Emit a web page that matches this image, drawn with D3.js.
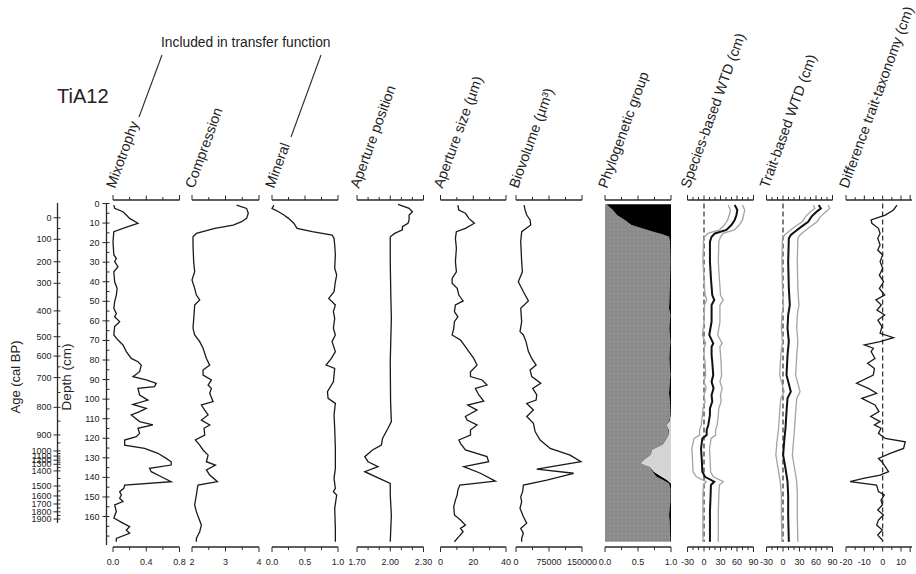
<!DOCTYPE html>
<html>
<head>
<meta charset="UTF-8" />
<style>
  body { margin: 0; background: #fff; }
  text { font-family: Arial, "Liberation Sans", sans-serif; fill: #222; }
</style>
</head>
<body>
<svg id="chart" width="916" height="574"></svg>
<script src="https://d3js.org/d3.v7.min.js"></script>
<script>
// ---- age-depth model (age labels and the depth they sit at)
const ageLabels = [0, 100, 200, 300, 400, 500, 600, 700, 800, 900, 1000, 1100, 1200, 1300, 1400, 1500, 1600, 1700, 1800, 1900];
const ageDepths = [7.3, 18.3, 29.8, 40.8, 54.9, 68.1, 78, 89, 104.2, 118.3, 126.5, 129.1, 131.2, 133.3, 136.7, 144.4, 149.5, 153.6, 157.6, 161.3];

// ---- series: [depth (cm), value]
const mixotrophy = [[0.8,0.01],[2.5,0.02],[4.2,0.12],[5.9,0.16],[7.6,0.2],[10.1,0.3],[11.8,0.18],[14.4,0.01],[19.5,0],[26.3,0.01],[28.0,0.04],[29.7,0.02],[32.3,0.06],[34.9,0.01],[40.0,0.02],[43.4,0.05],[46.8,0.04],[50.2,0.02],[53.6,0.01],[56.2,0.04],[57.9,0.02],[60.4,0.08],[62.9,0.02],[67.2,0.01],[69.8,0.06],[72.3,0.12],[75.7,0.16],[79.2,0.22],[80.9,0.3],[82.6,0.34],[86.0,0.32],[88.5,0.24],[90.2,0.4],[91.9,0.52],[93.6,0.5],[94.5,0.3],[97.9,0.32],[100.5,0.42],[102.7,0.24],[104.7,0.4],[106.4,0.32],[108.1,0.22],[111.5,0.32],[113.2,0.48],[114.9,0.3],[117.5,0.32],[119.2,0.28],[120.9,0.14],[123.5,0.14],[125.2,0.38],[127.7,0.54],[130.3,0.64],[132.0,0.7],[133.7,0.7],[135.4,0.44],[137.1,0.46],[139.7,0.58],[142.2,0.7],[143.9,0.14],[145.6,0.13],[147.3,0.08],[149.0,0.1],[150.7,0.08],[152.4,0.12],[154.1,0.02],[157.5,0.04],[160.8,0.01],[163.4,0.12],[165.2,0.2],[166.9,0.16],[168.6,0.2],[171.2,0.04],[172.9,0.04]];
const compression = [[0.8,3.33],[2.5,3.63],[5.0,3.68],[7.6,3.63],[9.3,3.48],[11.0,3.23],[12.7,2.68],[15.3,2.13],[17.0,2.03],[21.2,2.03],[29.7,2.05],[34.9,2.08],[39.1,2.0],[43.4,2.08],[46.8,2.13],[49.3,2.23],[51.9,2.08],[57.0,2.06],[63.8,2.03],[67.2,2.08],[70.6,2.23],[74.0,2.33],[79.2,2.43],[82.6,2.53],[85.1,2.33],[87.7,2.33],[90.2,2.58],[92.8,2.48],[94.5,2.58],[97.0,2.53],[101.3,2.63],[103.0,2.28],[105.6,2.38],[108.1,2.48],[110.7,2.28],[113.2,2.53],[114.9,2.36],[118.4,2.38],[120.9,2.1],[123.5,2.23],[126.0,2.33],[128.6,2.48],[132.0,2.43],[133.7,2.7],[136.2,2.43],[138.8,2.53],[142.2,2.76],[143.9,2.18],[145.6,2.16],[149.0,2.13],[154.1,2.08],[157.5,2.13],[160.8,2.2],[164.4,2.28],[167.8,2.23],[171.2,2.13],[172.9,2.13]];
const mineral = [[0.8,0.03],[2.5,0],[4.2,0.1],[5.9,0.18],[7.6,0.25],[10.1,0.33],[12.7,0.38],[14.4,0.61],[16.1,0.91],[17.8,0.94],[21.2,0.95],[26.3,0.96],[33.1,0.95],[36.6,0.98],[40.0,0.96],[45.1,0.94],[48.5,0.86],[51.9,0.96],[55.3,0.93],[58.7,0.95],[63.8,0.93],[67.2,0.96],[70.6,0.91],[75.7,0.96],[79.2,0.9],[82.6,0.82],[84.3,0.95],[91.1,0.93],[96.2,0.84],[99.6,0.85],[102.2,0.96],[108.1,0.94],[114.9,0.95],[125.2,0.96],[135.4,0.96],[140.5,0.94],[145.6,0.96],[147.3,0.93],[149.0,0.98],[155.8,0.95],[166.1,0.96],[172.9,0.96]];
const aperturePosition = [[0.4,2.07],[2.5,2.17],[4.2,2.2],[5.9,2.17],[8.4,2.17],[10.1,2.16],[11.8,2.11],[13.5,2.11],[15.3,2.04],[17.0,2.0],[19.5,2.0],[29.7,2.0],[46.8,2.005],[58.7,2.01],[80.9,2.0],[101.3,2.003],[111.5,2.01],[114.9,1.98],[120.1,1.93],[123.5,1.92],[126.0,1.84],[129.4,1.77],[132.0,1.8],[134.5,1.89],[137.1,1.77],[140.5,1.9],[143.1,2.0],[149.0,2.0],[159.2,2.01],[172.9,2.0]];
const apertureSize = [[0.8,10.6],[3.3,11.2],[5.0,15.2],[7.6,17.3],[10.1,20.7],[12.7,15.2],[14.4,9.7],[17.8,9.1],[22.9,9.7],[29.7,9.1],[34.9,9.7],[38.3,7.1],[40.8,7.1],[43.4,10.2],[46.8,11.2],[49.8,13.8],[51.9,9.1],[55.3,8.5],[57.9,10.6],[60.4,8.5],[63.8,8.1],[67.2,7.1],[69.8,12.2],[73.2,15.2],[75.7,17.3],[79.2,20.3],[82.6,22.3],[86.0,18.3],[88.5,18.3],[90.2,25.4],[92.8,28.4],[94.5,21.3],[97.9,23.4],[101.0,26.4],[103.0,16.6],[105.6,22.3],[108.9,15.2],[110.7,16.2],[113.2,22.3],[115.8,18.3],[118.4,18.3],[120.9,11.2],[122.6,12.2],[126.0,15.2],[129.4,28.4],[132.0,29.4],[134.5,14.2],[137.9,24.4],[141.9,33.5],[143.9,11.8],[146.5,10.6],[149.0,10.2],[151.6,9.1],[155.0,8.1],[159.2,8.5],[161.8,12.2],[164.4,15.2],[166.1,12.2],[167.8,13.8],[170.3,11.2],[172.9,8.5]];
const biovolume = [[0.8,18300],[3.3,20600],[5.9,24400],[8.4,32000],[11.0,33500],[14.4,12900],[19.5,10700],[29.7,12900],[34.9,14500],[40.0,5300],[45.1,16800],[49.8,28200],[53.6,10700],[60.4,12900],[65.5,9100],[67.2,16800],[70.6,22800],[75.7,28200],[79.2,35800],[82.6,45700],[85.1,32000],[88.5,35800],[91.9,56300],[94.5,38000],[97.9,47200],[100.5,45700],[102.2,24400],[105.6,39600],[108.9,24400],[112.4,39600],[116.6,43400],[120.9,54800],[125.2,77700],[128.6,123000],[132.0,147700],[135.8,47200],[137.9,131000],[141.4,70000],[143.9,16800],[147.3,15200],[149.9,10700],[152.4,12900],[155.8,9100],[160.1,16800],[163.4,24400],[166.1,10700],[168.6,16800],[171.2,12900],[172.9,12900]];
// phylogenetic groups: [depth, grey group, black group, light group]
const phylogenetic = [[0.4,0.02,0.98,0],[3.3,0.12,0.88,0],[5.9,0.18,0.82,0],[8.4,0.3,0.7,0],[11.0,0.4,0.6,0],[12.7,0.56,0.44,0],[14.4,0.73,0.27,0],[15.8,0.88,0.12,0],[17.0,0.97,0.03,0],[19.5,0.985,0.015,0],[29.7,0.99,0.01,0],[40.0,0.985,0.015,0],[50.2,0.975,0.025,0],[53.6,0.97,0.03,0],[57.0,0.99,0.01,0],[63.8,0.975,0.025,0],[70.6,0.99,0.01,0],[79.2,0.975,0.025,0],[87.7,0.99,0.01,0],[97.0,0.97,0.03,0],[101.3,0.985,0.015,0],[108.1,0.99,0.01,0],[111.5,0.97,0.01,0.02],[113.2,0.93,0.005,0.065],[115.8,0.96,0.01,0.03],[118.4,0.97,0,0.03],[120.9,0.93,0,0.07],[123.5,0.88,0,0.12],[126.0,0.72,0,0.28],[128.6,0.7,0,0.3],[131.1,0.6,0,0.4],[132.8,0.55,0,0.45],[134.5,0.68,0,0.32],[137.1,0.72,0.02,0.26],[139.7,0.78,0.08,0.14],[141.4,0.88,0.06,0.06],[143.1,0.97,0.03,0],[145.6,0.99,0.01,0],[152.4,0.99,0.01,0],[159.2,0.97,0.03,0],[162.7,0.98,0.02,0],[172.9,0.99,0.01,0]];
// WTD reconstructions: [depth, estimate, lower error, upper error]
const speciesWTD = [[0.8,55.8,44,70],[3.3,60.6,48,74],[5.9,59,46,72],[8.4,55.8,43,70],[11.0,49.8,37,64],[13.5,40.8,28,55],[15.3,19.8,7,35],[17.0,13.8,1,30],[19.5,10.8,-1,27],[29.7,10.8,-2,26],[38.3,12.6,0,28],[46.8,15,2,30],[49.3,18.6,5,35],[51.9,13.8,1,29],[60.4,13.8,0,29],[67.2,9.6,-3,25],[71.5,16.8,3,33],[73.2,13.8,1,29],[77.5,13.8,0,30],[80.9,15,2,31],[87.7,16.8,3,32],[91.1,13.8,0,29],[94.5,17.4,4,33],[97.9,13.8,0,30],[101.3,15,2,31],[104.7,10.8,-2,27],[108.1,10.8,-3,26],[113.2,7.8,-5,24],[115.8,4.8,-8,21],[118.4,4.8,-8,21],[120.1,-3,-18,13],[125.2,-5.4,-22,10],[130.3,-4.2,-21,11],[137.1,-3,-20,12],[139.7,1.8,-14,17],[142.2,18.6,4,35],[143.9,12.6,-1,28],[149.0,12,-2,27],[157.5,10.8,-2,26],[166.1,10.8,-2,26],[172.9,10.8,-2,26]];
const traitWTD = [[0.8,65,55,82],[2.5,68.8,58,85],[4.2,61,50,78],[6.7,51.8,41,68],[9.3,45.8,35,62],[11.8,33.6,22,50],[14.4,21.5,10,38],[16.1,14.2,3,31],[17.8,10.6,-1,27],[29.7,9.4,-2,26],[43.4,10.6,-1,27],[51.9,12.4,1,29],[57.0,9.4,-2,26],[63.8,8.2,-3,25],[70.6,10.6,-1,27],[77.5,8.2,-4,25],[87.7,6.4,-6,23],[96.2,14.2,2,31],[99.6,8.2,-4,25],[106.4,6.4,-6,23],[114.9,4.5,-8,21],[121.8,2.1,-11,19],[128.6,0.3,-13,17],[135.4,4.5,-9,21],[142.2,8.2,-5,25],[149.0,9.4,-3,26],[159.2,9.4,-3,26],[172.9,10.6,-2,27]];
const difference = [[0.8,7.8],[3.3,5.9],[5.9,1.4],[8.4,-6.3],[10.1,-5.9],[12.7,-2.3],[15.3,-1.4],[17.8,-2.7],[21.2,-1.4],[23.8,-2.7],[26.3,0],[29.7,-1.4],[33.1,0],[36.6,-1.8],[40.0,0.5],[43.4,-1.8],[46.8,1.1],[49.3,-3.7],[51.9,-0.7],[54.5,-3.1],[57.0,1.1],[59.6,-2.6],[62.9,-0.4],[66.4,-1.4],[68.6,5.9],[70.6,-1.4],[72.3,-10],[74.0,-5.1],[75.7,-6.3],[79.2,-4.2],[81.7,-8.2],[84.3,-4.5],[87.7,-5.1],[91.9,-14.2],[94.5,-7.8],[97.0,-3.3],[99.6,-11.4],[103.0,-4.2],[106.4,-2.0],[108.9,-6.5],[111.5,-1.4],[113.2,-4.5],[114.9,-0.9],[117.5,-2.3],[120.1,1.4],[121.8,12.3],[125.2,11.4],[127.7,4.1],[130.3,-2.3],[132.0,-0.5],[134.5,1.4],[137.1,3.2],[138.8,-1.4],[140.5,-10.5],[142.2,-17.8],[143.9,-3.3],[147.3,-2.3],[149.0,0.9],[151.6,-0.9],[154.1,-0.2],[156.7,-2.7],[159.2,0.4],[161.8,-2.3],[164.4,-3.3],[166.9,-0.2],[169.5,-2.7],[172.0,-0.2]];

// ---- axis ticks / labels per panel
const mixTicks = [0, 0.2, 0.4, 0.6, 0.8], mixLabels = [0, 0.4, 0.8];
const compTicks = [2, 2.5, 3, 3.5, 4], compLabels = [2, 3, 4];
const minTicks = [0, 0.25, 0.5, 0.75, 1], minLabels = [0, 0.5, 1];
const aposTicks = [1.7, 1.8, 1.9, 2.0, 2.1, 2.2, 2.3], aposLabels = [1.7, 2.0, 2.3];
const asizeTicks = [0, 10, 20, 30, 40], asizeLabels = [0, 20, 40];
const bioTicks = [0, 37500, 75000, 112500, 150000], bioLabels = [0, 75000, 150000];
const phyTicks = [0, 0.25, 0.5, 0.75, 1], phyLabels = [0, 0.5, 1];
const wtdTicks = [-30, -20, -10, 0, 10, 20, 30, 40, 50, 60, 70, 80, 90], wtdLabels = [-30, 0, 30, 60, 90];
const diffTicks = [-20, -15, -10, -5, 0, 5, 10, 15], diffLabels = [-20, -10, 0, 10];
const depthLabels = d3.range(0, 161, 10), depthTicks = d3.range(0, 171, 5);

const panels = [
  { title: "Mixotrophy", range: [113, 179.5], domain: [0, 0.8], ticks: mixTicks, labels: mixLabels, fmt: ".1f", data: mixotrophy },
  { title: "Compression", range: [192, 259], domain: [2, 4], ticks: compTicks, labels: compLabels, fmt: "d", data: compression },
  { title: "Mineral", range: [272, 338], domain: [0, 1], ticks: minTicks, labels: minLabels, fmt: ".1f", data: mineral },
  { title: "Aperture position", range: [357, 423.5], domain: [1.7, 2.3], ticks: aposTicks, labels: aposLabels, fmt: ".2f", data: aperturePosition },
  { title: "Aperture size (\u00b5m)", range: [440.5, 506], domain: [0, 40], ticks: asizeTicks, labels: asizeLabels, fmt: "d", data: apertureSize },
  { title: "Biovolume (\u00b5m\u00b3)", range: [516, 582], domain: [0, 150000], ticks: bioTicks, labels: bioLabels, fmt: "d", data: biovolume },
  { title: "Phylogenetic group", range: [605, 671], domain: [0, 1], ticks: phyTicks, labels: phyLabels, fmt: ".1f", stack: phylogenetic },
  { title: "Species-based WTD (cm)", range: [687.5, 753.5], domain: [-30, 90], ticks: wtdTicks, labels: wtdLabels, fmt: "d", wtd: speciesWTD, zero: true },
  { title: "Trait-based WTD (cm)", range: [766.5, 832.5], domain: [-30, 90], ticks: wtdTicks, labels: wtdLabels, fmt: "d", wtd: traitWTD, zero: true },
  { title: "Difference trait-taxonomy (cm)", range: [846, 912], domain: [-20, 16], ticks: diffTicks, labels: diffLabels, fmt: "d", data: difference, zero: true }
];

const svg = d3.select("#chart");
const topY = 200, botY = 547;
const y = d3.scaleLinear().domain([0, 160]).range([203.5, 516.5]);
const ink = "#2a2a2a";

// stipple for the grey group
const defs = svg.append("defs");
const pat = defs.append("pattern").attr("id", "dots").attr("width", 4).attr("height", 4)
  .attr("patternUnits", "userSpaceOnUse");
pat.append("rect").attr("width", 4).attr("height", 4).attr("fill", "#8b8b8b");
pat.append("rect").attr("x", 1).attr("y", 1).attr("width", 1).attr("height", 1).attr("fill", "#a2a2a2");

// ---- header texts
svg.append("text").attr("x", 57).attr("y", 103).style("font-size", "20px").text("TiA12");
svg.append("text").attr("x", 161).attr("y", 47).style("font-size", "13.8px").text("Included in transfer function");
svg.append("line").attr("x1", 162).attr("y1", 55).attr("x2", 139).attr("y2", 117).attr("stroke", ink).attr("stroke-width", 1.1);
svg.append("line").attr("x1", 321).attr("y1", 55).attr("x2", 291).attr("y2", 137).attr("stroke", ink).attr("stroke-width", 1.1);

// ---- age axis
const ageX = 57.5;
const ageToDepth = d3.scaleLinear().domain(ageLabels).range(ageDepths);
const ageG = svg.append("g");
ageG.append("line").attr("x1", ageX).attr("x2", ageX).attr("y1", 203).attr("y2", 523)
  .attr("stroke", ink).attr("stroke-width", 1.3);
ageG.selectAll(".amaj").data(ageLabels).join("line")
  .attr("x1", ageX - 4).attr("x2", ageX + 3)
  .attr("y1", d => y(ageToDepth(d))).attr("y2", d => y(ageToDepth(d)))
  .attr("stroke", ink).attr("stroke-width", 1);
ageG.selectAll(".amin").data(d3.range(50, 1900, 100)).join("line")
  .attr("x1", ageX).attr("x2", ageX + 3)
  .attr("y1", d => y(ageToDepth(d))).attr("y2", d => y(ageToDepth(d)))
  .attr("stroke", ink).attr("stroke-width", 1);
ageG.selectAll("text").data(ageLabels).join("text")
  .attr("x", ageX - 6).attr("y", d => y(ageToDepth(d)) + 3)
  .attr("text-anchor", "end").style("font-size", "9px").text(d => d);
svg.append("text").attr("transform", "translate(20,377) rotate(-90)")
  .attr("text-anchor", "middle").style("font-size", "13px").text("Age (cal BP)");

// ---- depth axis
const depX = 106.5;
const depG = svg.append("g");
depG.append("line").attr("x1", depX).attr("x2", depX).attr("y1", y(0) - 0.5).attr("y2", 545)
  .attr("stroke", ink).attr("stroke-width", 1.3);
depG.selectAll(".dmin").data(depthTicks).join("line")
  .attr("x1", depX).attr("x2", depX + 3)
  .attr("y1", d => y(d)).attr("y2", d => y(d)).attr("stroke", ink);
depG.selectAll(".dmaj").data(depthLabels).join("line")
  .attr("x1", depX - 4).attr("x2", depX)
  .attr("y1", d => y(d)).attr("y2", d => y(d)).attr("stroke", ink);
depG.selectAll("text").data(depthLabels).join("text")
  .attr("x", depX - 7).attr("y", d => y(d) + 3)
  .attr("text-anchor", "end").style("font-size", "9px").text(d => d);
svg.append("text").attr("transform", "translate(71,377) rotate(-90)")
  .attr("text-anchor", "middle").style("font-size", "13.5px").text("Depth (cm)");

// ---- panels
panels.forEach(p => {
  const x = d3.scaleLinear().domain(p.domain).range(p.range);
  const g = svg.append("g");
  const fmt = d3.format(p.fmt);

  // phylogenetic stacked area
  if (p.stack) {
    const layers = [
      { fill: "url(#dots)", lo: d => 0, hi: d => d[1] },
      { fill: "#000", lo: d => d[1], hi: d => d[1] + d[2] },
      { fill: "#d4d4d4", lo: d => d[1] + d[2], hi: d => d[1] + d[2] + d[3] }
    ];
    layers.forEach(l => {
      g.append("path").datum(p.stack)
        .attr("d", d3.area().y(d => y(d[0])).x0(d => x(l.lo(d))).x1(d => x(Math.min(1, l.hi(d)))))
        .attr("fill", l.fill);
    });
  }

  if (p.zero) {
    g.append("line").attr("x1", x(0)).attr("x2", x(0)).attr("y1", y(0)).attr("y2", y(173))
      .attr("stroke", ink).attr("stroke-width", 1.2).attr("stroke-dasharray", "5,3");
  }

  if (p.wtd) {
    [2, 3].forEach(i => {
      g.append("path").datum(p.wtd)
        .attr("d", d3.line().x(d => x(d[i])).y(d => y(d[0])))
        .attr("fill", "none").attr("stroke", "#a3a3a3").attr("stroke-width", 1.3);
    });
    g.append("path").datum(p.wtd)
      .attr("d", d3.line().x(d => x(d[1])).y(d => y(d[0])))
      .attr("fill", "none").attr("stroke", "#111").attr("stroke-width", 2);
  }

  if (p.data) {
    g.append("path").datum(p.data)
      .attr("d", d3.line().x(d => x(d[1])).y(d => y(d[0])))
      .attr("fill", "none").attr("stroke", "#1a1a1a").attr("stroke-width", 1.3);
  }

  // top and bottom axes
  [[topY, -1], [botY, 1]].forEach(([ay, dir]) => {
    g.append("line").attr("x1", p.range[0]).attr("x2", p.range[1]).attr("y1", ay).attr("y2", ay)
      .attr("stroke", ink).attr("stroke-width", 1.3);
    g.selectAll(null).data(p.ticks).join("line")
      .attr("x1", d => x(d)).attr("x2", d => x(d))
      .attr("y1", ay)
      .attr("y2", (d, i) => {
        const end = i === 0 || i === p.ticks.length - 1;
        const len = end ? 5 : (p.labels.includes(d) ? 4.5 : 3);
        return ay + dir * len;
      })
      .attr("stroke", ink).attr("stroke-width", 1);
  });
  g.selectAll(null).data(p.labels).join("text")
    .attr("x", d => x(d)).attr("y", 565)
    .attr("text-anchor", "middle").style("font-size", "9px")
    .text(d => fmt(d).replace("\u2212", "-"));

  // rotated title
  svg.append("text")
    .attr("transform", `translate(${p.range[0] + 2},189) rotate(-70)`)
    .style("font-size", "14.3px").text(p.title);
});
</script>
</body>
</html>
